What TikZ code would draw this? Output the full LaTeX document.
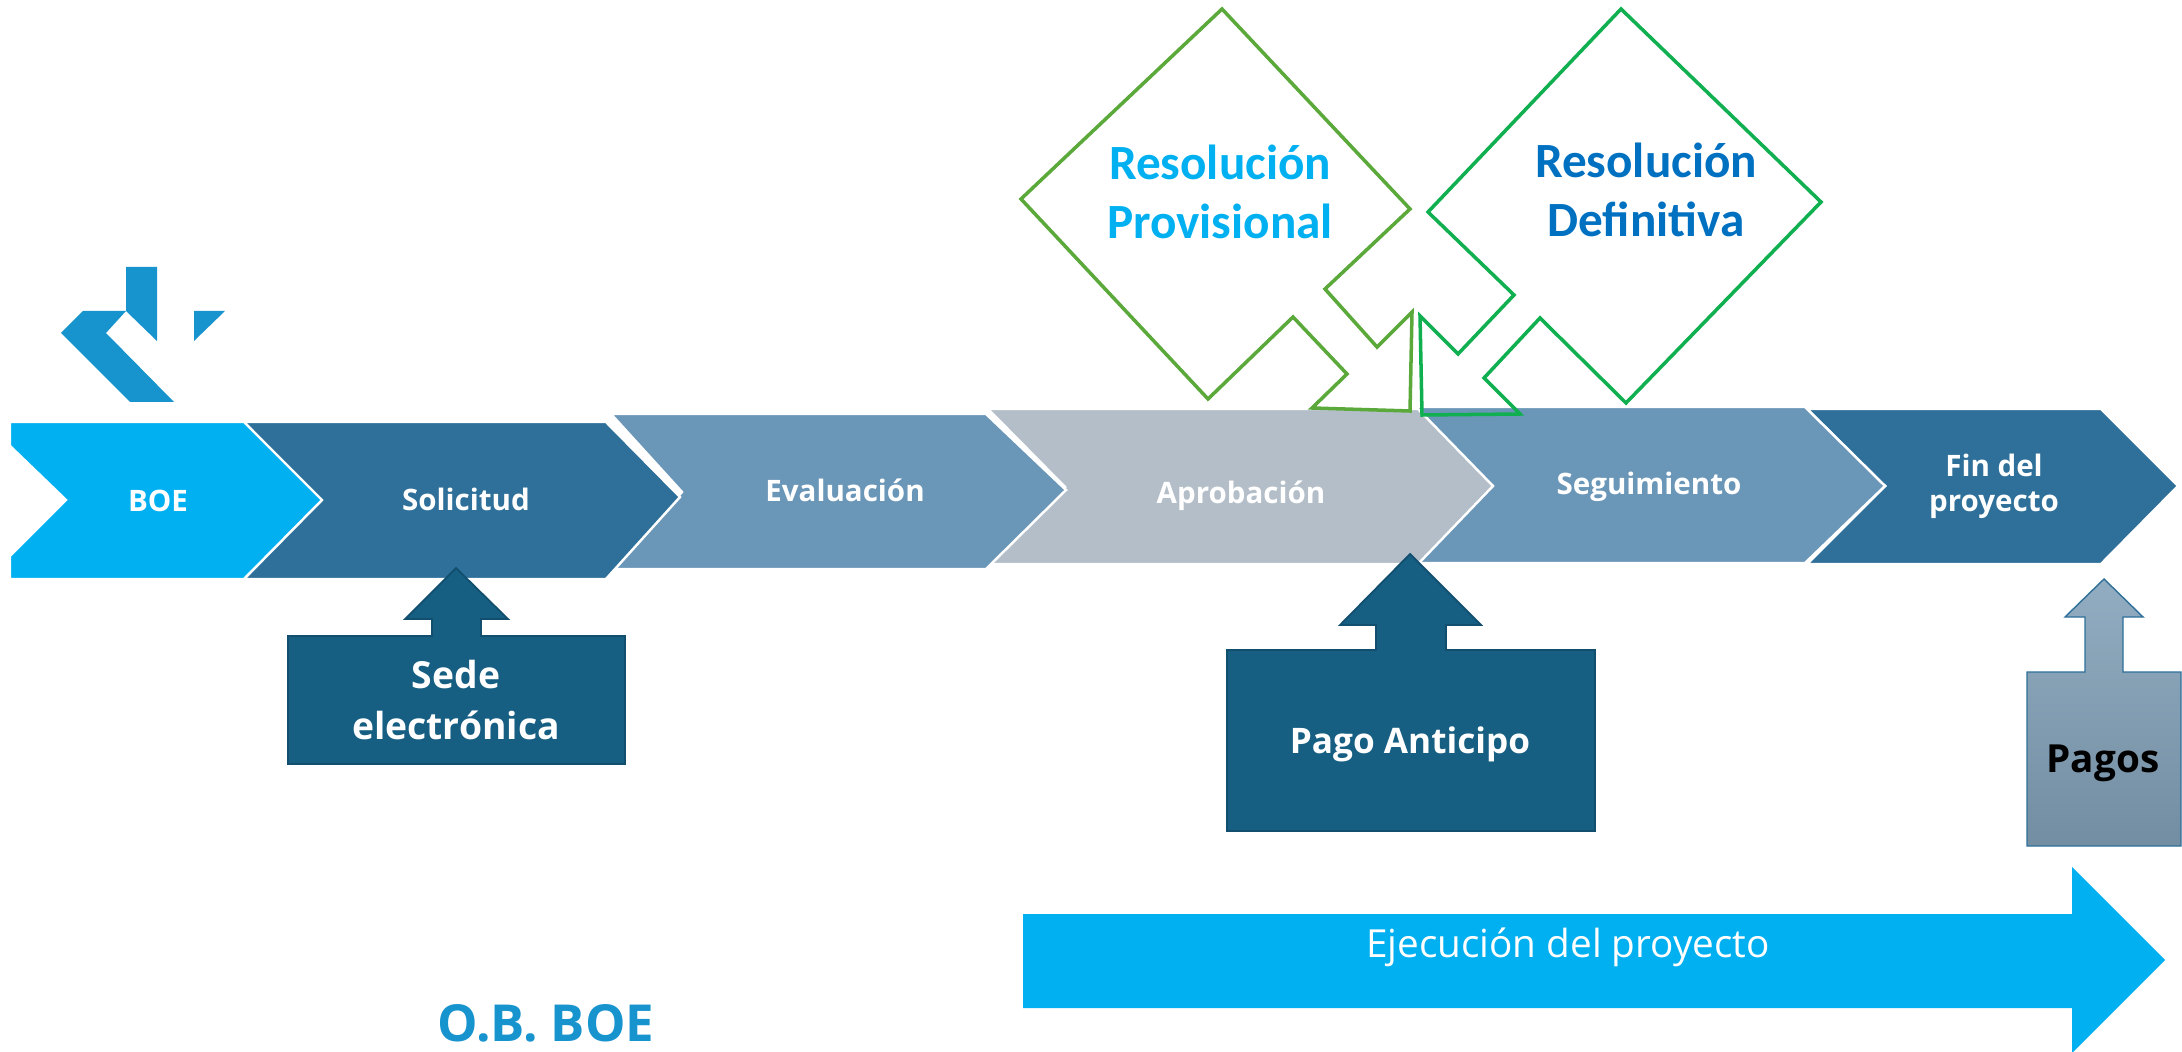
\documentclass[tikz,border=0pt]{standalone}
\usepackage{fontspec}
\setmainfont{Open Sans}
\newfontfamily\resfont{Carlito}
\definecolor{boeblue}{HTML}{00B0F0}
\definecolor{stepdark}{HTML}{2E7099}
\definecolor{stepmid}{HTML}{6A96B8}
\definecolor{steplight}{HTML}{B3BEC8}
\definecolor{calldark}{HTML}{165E82}
\definecolor{callline}{HTML}{124E6E}
\definecolor{logoblue}{HTML}{1793CE}
\definecolor{greenprov}{HTML}{5AA93A}
\definecolor{greendef}{HTML}{10AF50}
\definecolor{defblue}{HTML}{0070C0}
\tikzset{
  chevron/.style={draw=white, line width=0.7pt, line join=miter},
  steplabel/.style={text=white, font=\bfseries\fontsize{8.4}{10}\selectfont, align=center},
  calllabel/.style={text=white, font=\bfseries\fontsize{10.6}{14.6}\selectfont, align=center},
  reslabel/.style={font=\resfont\bfseries\fontsize{14}{16.6}\selectfont, align=center}
}
\begin{document}
\begin{tikzpicture}[x=0.01cm, y=-0.01cm]
    \useasboundingbox (0,0) rectangle (2182,1052);

    \fill[logoblue] (126,267) -- (157,267) -- (157,341) -- (126,311) -- cycle;
    \fill[logoblue] (83,311) -- (126,311) -- (106,333) -- (174,402) -- (130,402) -- (61,333) -- cycle;
    \fill[logoblue] (194,311) -- (225,311) -- (194,341) -- cycle;

    \fill[stepdark, chevron] (1807,409) -- (2101,409) -- (2178,486) -- (2101,564) -- (1807,564) -- (1885,486) -- cycle;
    \fill[stepmid, chevron] (1414,407) -- (1805,407) -- (1885,486) -- (1805,563) -- (1414,563) -- (1491,486) -- cycle;
    \fill[steplight, chevron] (988,409) -- (1418,409) -- (1493,486) -- (1418,564) -- (984,564) -- (1065,487) -- cycle;
    \fill[stepmid, chevron] (611,414) -- (986,414) -- (1066,490) -- (986,569) -- (606,569) -- (682,492) -- cycle;
    \fill[stepdark, chevron] (244,422) -- (606,422) -- (680,497) -- (606,579) -- (244,579) -- (320,500) -- cycle;
    \fill[boeblue, chevron] (10,422) -- (244,422) -- (322,500) -- (244,579) -- (10,579) -- (10,556) -- (66,500) -- (10,446) -- cycle;

    \node[steplabel] (boe) at (158,501) {BOE};
    \node[steplabel] (solicitud) at (466,499) {Solicitud};
    \node[steplabel] (evaluacion) at (845,490) {Evaluación};
    \node[steplabel] (aprobacion) at (1241,496) {Aprobación};
    \node[steplabel] (seguimiento) at (1649,487) {Seguimiento};
    \node[steplabel] (fin) at (1994,486) {Fin del\\proyecto};

    \filldraw[calldark, draw=callline, line width=0.5pt] (288,636) -- (432,636) -- (432,619) -- (405,619) -- (456,568)
        -- (508,619) -- (481,619) -- (481,636) -- (625,636) -- (625,764) -- (288,764) -- cycle;
    \node[calllabel] (sede) at (456,700) {Sede\\electrónica};

    \filldraw[calldark, draw=callline, line width=0.5pt] (1227,650) -- (1376,650) -- (1376,625) -- (1340,625) -- (1410,554)
        -- (1481,625) -- (1446,625) -- (1446,650) -- (1595,650) -- (1595,831) -- (1227,831) -- cycle;
    \node[calllabel, font=\bfseries\fontsize{10}{13}\selectfont] (anticipo) at (1410,744) {Pago Anticipo};

    \path[draw=stepdark, line width=0.4pt, top color=stepmid!45!steplight, bottom color=stepmid!60!gray] (2027,672) -- (2085,672) -- (2085,617) -- (2065,617) -- (2104,579)
        -- (2143,617) -- (2123,617) -- (2123,672) -- (2181,672) -- (2181,846) -- (2027,846) -- cycle;
    \node[calllabel, text=black, font=\bfseries\fontsize{11}{13}\selectfont] (pagos) at (2103,763) {Pagos};

    \fill[boeblue] (1023,914) -- (2072,914) -- (2072,867) -- (2165,960) -- (2072,1053) -- (2072,1008) -- (1023,1008) -- cycle;
    \node[text=white, font=\fontsize{11}{13}\selectfont] (ejecucion) at (1568,947) {Ejecución del proyecto};

    \draw[greenprov, line width=1pt] (1222,9) -- (1410,209) -- (1325,289) -- (1377,347) -- (1412,312) -- (1410,411)
        -- (1312,408) -- (1347,374) -- (1293,317) -- (1208,399) -- (1021,199) -- cycle;
    \draw[greendef, line width=1pt] (1621,9) -- (1821,202) -- (1626,403) -- (1540,318) -- (1484,378) -- (1520,414)
        -- (1422,415) -- (1420,316) -- (1458,354) -- (1514,295) -- (1428,212) -- cycle;
    \node[reslabel, text=boeblue] (provisional) at (1220,192) {Resolución\\Provisional};
    \node[reslabel, text=defblue] (definitiva) at (1646,190) {Resolución\\Definitiva};

    \node[text=logoblue, font=\bfseries\fontsize{14.5}{17}\selectfont] (obboe) at (546,1023) {O.B. BOE};
\end{tikzpicture}
\end{document}
